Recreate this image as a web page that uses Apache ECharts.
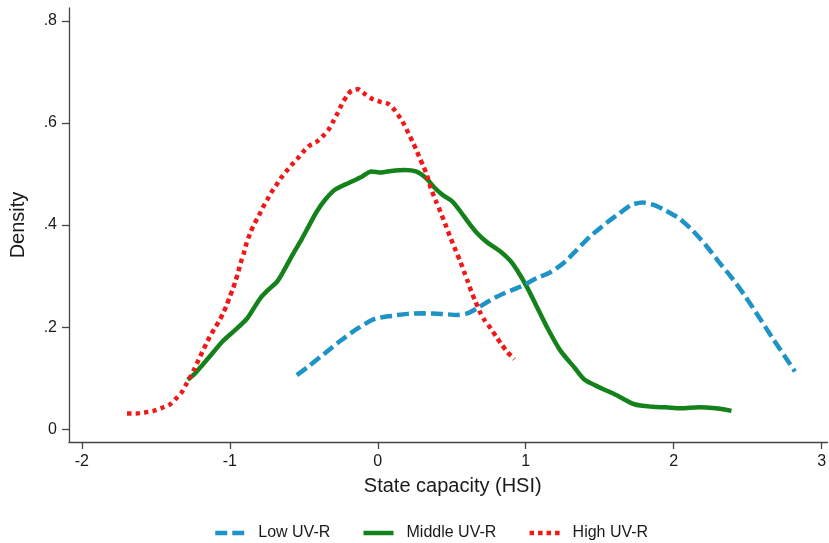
<!DOCTYPE html>
<html>
<head>
<meta charset="utf-8">
<title>State capacity density by UV-R group</title>
<script src="https://cdn.jsdelivr.net/npm/echarts@6/dist/echarts.min.js"></script>
<style>
  html, body { margin: 0; padding: 0; background: #fff; }
  #chart { width: 829px; height: 543px; }
</style>
</head>
<body>
<div id="chart"></div>
<script>
// Kernel density estimates of state capacity (HSI) for three UV-R groups
const seriesNames = ['Low UV-R', 'Middle UV-R', 'High UV-R'];

const lowX = [-0.547, -0.468, -0.357, -0.245, -0.133, -0.021, 0.091, 0.203, 0.314, 0.426, 0.538, 0.605, 0.672, 0.762, 0.851, 0.963, 1.075, 1.164, 1.254, 1.344, 1.433, 1.545, 1.634, 1.713, 1.791, 1.869, 1.948, 2.037, 2.126, 2.216, 2.305, 2.395, 2.485, 2.574, 2.663, 2.753, 2.820];
const lowY = [0.106, 0.123, 0.149, 0.175, 0.198, 0.216, 0.222, 0.226, 0.227, 0.226, 0.224, 0.227, 0.237, 0.253, 0.266, 0.279, 0.296, 0.307, 0.325, 0.351, 0.377, 0.404, 0.423, 0.439, 0.444, 0.439, 0.428, 0.413, 0.390, 0.361, 0.328, 0.296, 0.260, 0.221, 0.181, 0.142, 0.113];

const midX = [-1.285, -1.240, -1.185, -1.117, -1.050, -0.961, -0.883, -0.838, -0.793, -0.737, -0.681, -0.636, -0.581, -0.513, -0.468, -0.413, -0.357, -0.290, -0.200, -0.111, -0.044, 0.023, 0.091, 0.180, 0.258, 0.326, 0.381, 0.438, 0.505, 0.560, 0.616, 0.672, 0.740, 0.829, 0.896, 0.941, 1.008, 1.075, 1.142, 1.232, 1.332, 1.399, 1.500, 1.612, 1.735, 1.858, 1.948, 2.048, 2.171, 2.283, 2.391];
const midY = [0.097, 0.108, 0.126, 0.149, 0.172, 0.195, 0.217, 0.237, 0.257, 0.274, 0.289, 0.310, 0.339, 0.373, 0.397, 0.426, 0.449, 0.469, 0.482, 0.494, 0.505, 0.503, 0.506, 0.508, 0.505, 0.492, 0.474, 0.459, 0.446, 0.426, 0.404, 0.384, 0.366, 0.348, 0.330, 0.312, 0.279, 0.240, 0.201, 0.155, 0.120, 0.097, 0.082, 0.067, 0.049, 0.044, 0.043, 0.041, 0.043, 0.041, 0.036];

const highX = [-1.695, -1.632, -1.576, -1.515, -1.458, -1.408, -1.364, -1.326, -1.297, -1.270, -1.240, -1.211, -1.185, -1.158, -1.136, -1.106, -1.072, -1.046, -1.023, -1.001, -0.979, -0.961, -0.943, -0.928, -0.905, -0.894, -0.860, -0.831, -0.804, -0.777, -0.748, -0.719, -0.688, -0.654, -0.619, -0.581, -0.540, -0.502, -0.464, -0.413, -0.368, -0.334, -0.301, -0.272, -0.245, -0.211, -0.178, -0.133, -0.089, -0.037, 0.019, 0.072, 0.117, 0.153, 0.180, 0.207, 0.236, 0.258, 0.281, 0.310, 0.332, 0.359, 0.393, 0.426, 0.460, 0.493, 0.527, 0.560, 0.583, 0.609, 0.632, 0.661, 0.690, 0.721, 0.762, 0.802, 0.840, 0.874, 0.907, 0.923];
const highY = [0.031, 0.031, 0.033, 0.036, 0.042, 0.048, 0.060, 0.072, 0.087, 0.101, 0.118, 0.136, 0.152, 0.168, 0.181, 0.196, 0.212, 0.227, 0.242, 0.259, 0.275, 0.291, 0.308, 0.325, 0.345, 0.358, 0.386, 0.404, 0.418, 0.434, 0.449, 0.464, 0.477, 0.492, 0.505, 0.518, 0.531, 0.544, 0.555, 0.563, 0.575, 0.586, 0.603, 0.619, 0.635, 0.652, 0.663, 0.666, 0.657, 0.647, 0.641, 0.637, 0.624, 0.609, 0.596, 0.580, 0.563, 0.549, 0.533, 0.514, 0.498, 0.472, 0.447, 0.424, 0.399, 0.374, 0.350, 0.327, 0.309, 0.289, 0.270, 0.250, 0.230, 0.214, 0.198, 0.181, 0.165, 0.152, 0.142, 0.137];

const xTicks = [-2, -1, 0, 1, 2, 3];
const xTickLabels = ['-2', '-1', '0', '1', '2', '3'];
const yTicks = [0, 0.2, 0.4, 0.6, 0.8];
const yTickLabels = ['0', '.2', '.4', '.6', '.8'];

const FONT = '"Liberation Sans", Arial, Helvetica, sans-serif';
const TEXT = '#1a1a1a';
const AXIS = '#444';

const styles = [
  { color: '#1e94c6', type: [12, 5] },
  { color: '#13821a', type: 'solid' },
  { color: '#f21818', type: [4.5, 4] }
];
const xs = [lowX, midX, highX];
const ys = [lowY, midY, highY];

function pairs(xv, yv) {
  return xv.map((x, i) => [x, yv[i]]);
}
function tickText(ticks, labels) {
  return function (v) {
    for (let i = 0; i < ticks.length; i++) {
      if (Math.abs(ticks[i] - v) < 1e-9) return labels[i];
    }
    return '';
  };
}

const chart = echarts.init(document.getElementById('chart'), null, { renderer: 'canvas' });

chart.setOption({
  animation: false,
  backgroundColor: '#ffffff',
  grid: { left: 65, right: 0, top: 8, bottom: 101, containLabel: false },
  xAxis: {
    type: 'value',
    min: -2.087,
    max: 3.04,
    name: 'State capacity (HSI)',
    nameLocation: 'middle',
    nameGap: 34,
    nameTextStyle: { fontFamily: FONT, fontSize: 20, color: TEXT, padding: [0, 0, 0, 9] },
    axisLine: { show: true, onZero: false, lineStyle: { color: AXIS, width: 1.3 } },
    axisTick: { show: true, length: 7, customValues: xTicks, lineStyle: { color: AXIS, width: 1.3 } },
    axisLabel: {
      customValues: xTicks,
      formatter: tickText(xTicks, xTickLabels),
      fontFamily: FONT, fontSize: 16, color: TEXT, margin: 12
    },
    splitLine: { show: false }
  },
  yAxis: {
    type: 'value',
    min: -0.0249,
    max: 0.825,
    name: 'Density',
    nameLocation: 'middle',
    nameGap: 41,
    nameTextStyle: { fontFamily: FONT, fontSize: 20, color: TEXT },
    axisLine: { show: true, onZero: false, lineStyle: { color: AXIS, width: 1.3 } },
    axisTick: { show: true, length: 7, customValues: yTicks, lineStyle: { color: AXIS, width: 1.3 } },
    axisLabel: {
      customValues: yTicks,
      formatter: tickText(yTicks, yTickLabels),
      fontFamily: FONT, fontSize: 16, color: TEXT, margin: 12
    },
    splitLine: { show: false }
  },
  legend: {
    data: seriesNames,
    left: 213,
    top: 525,
    padding: 0,
    itemWidth: 30,
    itemHeight: 14,
    itemGap: 31,
    itemStyle: { opacity: 0, borderWidth: 0 },
    lineStyle: { width: 4.5 },
    textStyle: { fontFamily: FONT, fontSize: 16, color: TEXT, padding: [0, 0, 0, 8] }
  },
  series: seriesNames.map((name, i) => ({
    name: name,
    type: 'line',
    data: pairs(xs[i], ys[i]),
    symbol: 'none',
    smooth: 0.25,
    lineStyle: { color: styles[i].color, width: 4.5, type: styles[i].type },
    itemStyle: { color: styles[i].color },
    z: [3, 2, 4][i]
  }))
});
</script>
</body>
</html>
